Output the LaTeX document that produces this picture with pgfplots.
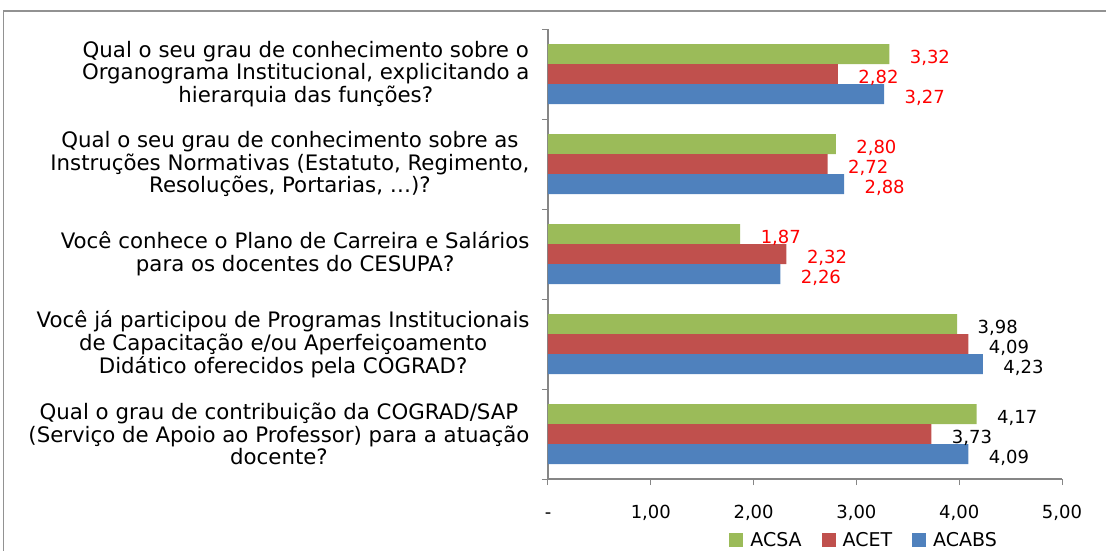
\documentclass[border=0pt]{standalone}
\usepackage{pgfplots}
\pgfplotsset{compat=1.18}
\usepackage{fontspec}
\setmainfont{DejaVu Sans}
\definecolor{cgreen}{HTML}{9BBB59}
\definecolor{cred}{HTML}{C0504D}
\definecolor{cblue}{HTML}{4F81BD}
\definecolor{axgray}{HTML}{868686}
\begin{document}
\begin{tikzpicture}[x=1pt,y=1pt]
\useasboundingbox (0,0) rectangle (1106,550);
\draw[axgray!90, line width=1.5pt] (3.5,-10) -- (3.5,539) -- (1120,539);
\begin{axis}[
  at={(548pt,71pt)}, anchor=south west,
  scale only axis, width=514pt, height=450pt,
  xbar=0pt, bar width=20pt,
  xmin=0, xmax=5, ymin=-0.5, ymax=4.5, y dir=reverse,
  axis x line*=bottom, axis y line*=left,
  axis line style={axgray, line width=1.5pt, -},
  tick align=outside,
  xtick={0,1,2,3,4,5},
  xticklabels={-,{1,00},{2,00},{3,00},{4,00},{5,00}},
  major x tick style={axgray, line width=1pt},
  major tick length=6pt,
  ytick={0,1,2,3,4},
  major y tick style={draw=none},
  minor ytick={-0.5,0.5,1.5,2.5,3.5,4.5},
  minor y tick style={axgray, line width=1pt},
  minor tick length=6pt,
  yticklabels={
    {Qual o seu grau de conhecimento sobre o\\Organograma Institucional, explicitando a\\hierarquia das funções?},
    {Qual o seu grau de conhecimento sobre as\\Instruções Normativas (Estatuto, Regimento,\\Resoluções, Portarias, \ldots)?},
    {Você conhece o Plano de Carreira e Salários\\para os docentes do CESUPA?},
    {Você já participou de Programas Institucionais\\de Capacitação e/ou Aperfeiçoamento\\Didático oferecidos pela COGRAD?},
    {Qual o grau de contribuição da COGRAD/SAP\\(Serviço de Apoio ao Professor) para a atuação\\docente?}
  },
  yticklabel style={align=center, font=\fontsize{21.3}{22.8}\selectfont, xshift=-9pt},
  xticklabel style={font=\fontsize{18}{20}\selectfont, text height=13pt, text depth=0pt, yshift=-17pt},
  point meta=x,
  visualization depends on={rawy \as \ycat},
  nodes near coords={\ifdim\ycat pt<2.5pt\color{red}\fi\pgfmathprintnumber{\pgfplotspointmeta}},
  nodes near coords style={anchor=west, xshift=17pt, yshift=-4pt, font=\fontsize{18}{20}\selectfont,
    /pgf/number format/.cd, fixed, fixed zerofill, precision=2, use comma, assume math mode=true},
  legend style={at={(0.615,-0.136)}, anchor=center, draw=none, legend columns=3,
    font=\fontsize{19}{20}\selectfont,
    /tikz/every odd column/.append style={column sep=5pt},
    /tikz/every even column/.append style={column sep=18pt}},
  legend image code/.code={\fill[#1] (0pt,-7pt) rectangle (14pt,7pt);},
]
\addplot[fill=cgreen, draw=none, bar shift=20pt] coordinates {(3.32,0) (2.80,1) (1.87,2) (3.98,3) (4.17,4)};
\addplot[fill=cred, draw=none, bar shift=0pt] coordinates {(2.82,0) (2.72,1) (2.32,2) (4.09,3) (3.73,4)};
\addplot[fill=cblue, draw=none, bar shift=-20pt] coordinates {(3.27,0) (2.88,1) (2.26,2) (4.23,3) (4.09,4)};
\legend{ACSA, ACET, ACABS}
\end{axis}
\end{tikzpicture}
\end{document}
